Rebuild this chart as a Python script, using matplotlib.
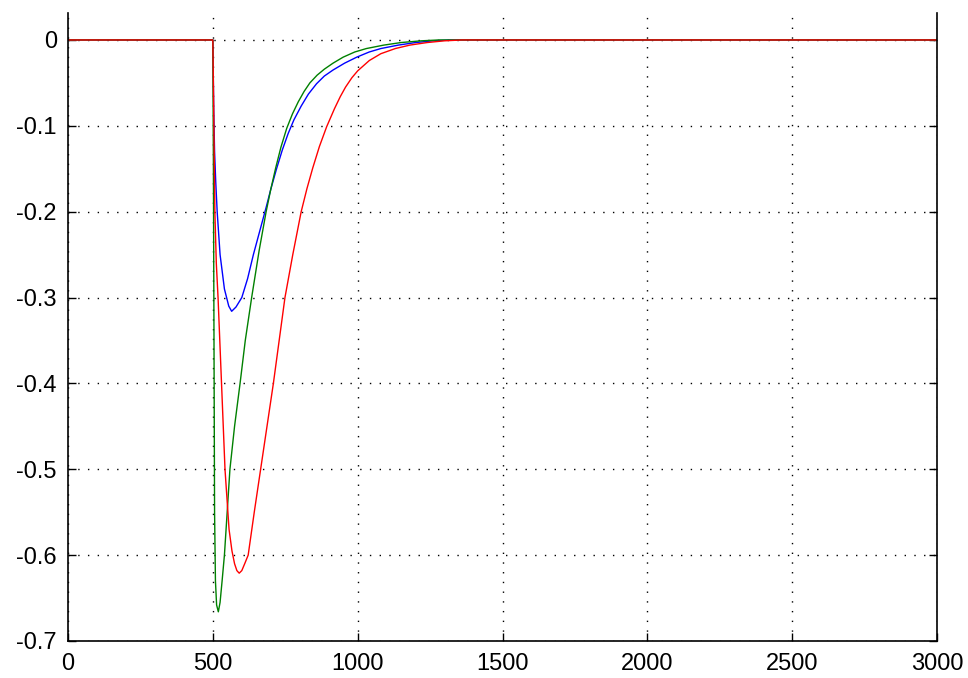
import matplotlib.pyplot as plt

blue_x = [0, 500, 503, 506, 510, 515, 525, 540, 555, 565, 580, 600, 620, 640, 660, 684,
          700, 720, 740, 760, 780, 805, 830, 858, 885, 915, 955, 997, 1040, 1080, 1140,
          1200, 1260, 1320, 3000]
blue_y = [0, 0, -0.08, -0.13, -0.165, -0.2, -0.25, -0.29, -0.31, -0.316, -0.311, -0.3,
          -0.278, -0.25, -0.225, -0.195, -0.174, -0.15, -0.128, -0.109, -0.093, -0.077,
          -0.063, -0.051, -0.042, -0.035, -0.027, -0.02, -0.014, -0.01, -0.006, -0.003,
          -0.001, 0, 0]

green_x = [0, 500, 502, 504, 506, 509, 513, 519, 525, 532, 540, 559, 575, 594, 612, 634,
           660, 684, 700, 717, 735, 755, 775, 795, 815, 835, 860, 885, 915, 950, 990,
           1030, 1090, 1150, 1220, 1280, 3000]
green_y = [0, 0, -0.15, -0.35, -0.55, -0.63, -0.658, -0.666, -0.655, -0.63, -0.6, -0.5,
           -0.45, -0.4, -0.35, -0.3, -0.245, -0.2, -0.174, -0.149, -0.125, -0.103, -0.086,
           -0.072, -0.06, -0.05, -0.041, -0.034, -0.027, -0.02, -0.014, -0.01, -0.006,
           -0.003, -0.001, 0, 0]

red_x = [0, 500, 503, 507, 512, 518, 524, 530, 542, 556, 566, 575, 583, 591, 600, 610,
         622, 643, 665, 687, 709, 729, 749, 776, 805, 825, 845, 868, 893, 920, 940, 958,
         980, 1000, 1040, 1080, 1130, 1180, 1240, 1300, 1360, 3000]
red_y = [0, 0, -0.08, -0.2, -0.26, -0.3, -0.35, -0.4, -0.5, -0.57, -0.595, -0.61, -0.618,
         -0.621, -0.618, -0.61, -0.6, -0.55, -0.5, -0.45, -0.4, -0.35, -0.3, -0.25,
         -0.2, -0.173, -0.149, -0.124, -0.101, -0.08, -0.066, -0.055, -0.044, -0.036,
         -0.024, -0.016, -0.01, -0.006, -0.003, -0.001, 0, 0]

x_ticks = [0, 500, 1000, 1500, 2000, 2500, 3000]
y_ticks = [0, -0.1, -0.2, -0.3, -0.4, -0.5, -0.6, -0.7]

plt.rcParams['font.family'] = 'Liberation Sans'

fig = plt.figure(figsize=(9.68, 6.78), dpi=100)
ax = fig.add_axes([68 / 968, 37 / 678, 869 / 968, 628 / 678])

ax.plot(blue_x, blue_y, color='#0000ff', lw=1.0)
ax.plot(green_x, green_y, color='#008000', lw=1.0)
ax.plot(red_x, red_y, color='#ff0000', lw=1.0)

ax.set_xlim(0, 3000)
ax.set_ylim(-0.7, 0.0314)
ax.set_xticks(x_ticks)
ax.set_xticklabels([str(t) for t in x_ticks])
ax.set_yticks(y_ticks)
ax.set_yticklabels(['0', '-0.1', '-0.2', '-0.3', '-0.4', '-0.5', '-0.6', '-0.7'])
ax.tick_params(direction='in', length=6, width=1, labelsize=17, right=True,
               colors='black')
ax.tick_params(axis='y', pad=8)
ax.tick_params(axis='x', pad=9)
ax.spines['top'].set_visible(False)
for s in ['left', 'right', 'bottom']:
    ax.spines[s].set_linewidth(1.2)
ax.grid(True, color='black', linestyle=(0, (1, 6)), lw=1.0)

fig.savefig('out.png', dpi=100)
